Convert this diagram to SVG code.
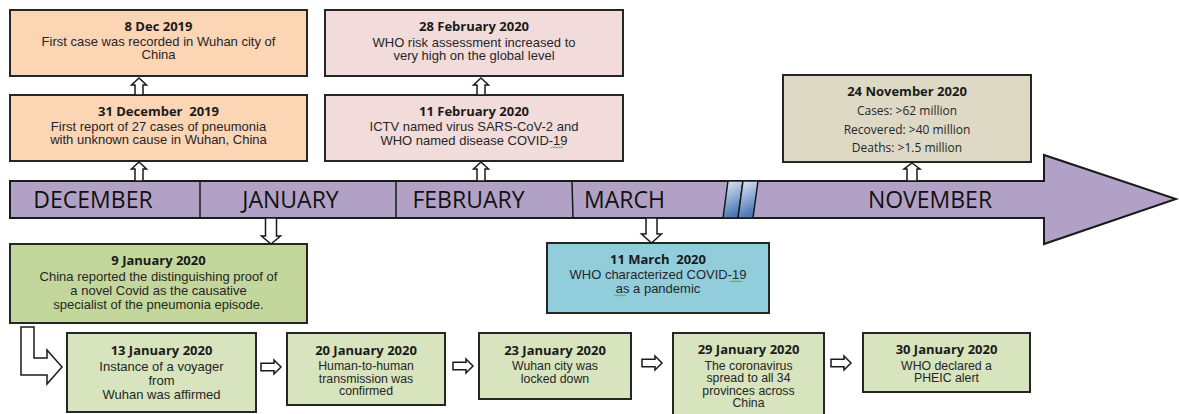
<svg xmlns="http://www.w3.org/2000/svg" width="1179" height="414" viewBox="0 0 1179 414">
<style>
.box{stroke:#262626;stroke-width:2}
.peach{fill:#fcd5b5}.pink{fill:#f2dcdb}.tan{fill:#ddd9c4}.green{fill:#c3d69b}.lgreen{fill:#d7e4bd}.blue{fill:#92cddc}
.t{font-family:"Open Sans","Liberation Sans",sans-serif;font-weight:bold;font-size:13px;fill:#1a1a1a;text-anchor:middle}
.b{font-family:"Liberation Sans",Arial,sans-serif;font-size:13px;fill:#262626;text-anchor:middle}
.s{font-family:"Liberation Sans",Arial,sans-serif;font-size:12.3px;fill:#262626;text-anchor:middle}
.c{font-family:"Open Sans","Liberation Sans",sans-serif;font-size:12px;fill:#262626;text-anchor:middle}
.m{font-family:"Open Sans","Liberation Sans",sans-serif;font-size:23px;fill:#111111;text-anchor:middle}
.arr{fill:#ffffff;stroke:#1a1a1a;stroke-width:1.5;stroke-linejoin:miter}
.sq{fill:none;stroke:#3a9a3a;stroke-width:0.8}
</style>
<defs>
<linearGradient id="brk" x1="0" y1="0" x2="0.3" y2="1">
<stop offset="0" stop-color="#e4ecf7"/>
<stop offset="1" stop-color="#4a78b8"/>
</linearGradient>
</defs>

<g id="timeline">
<polygon points="10,181 1044,181 1044,155 1176,199 1044,244 1044,218 10,218" fill="#b2a1c7" stroke="#1a1a1a" stroke-width="2"/>
<line x1="200" y1="181" x2="200" y2="218" stroke="#1a1a1a" stroke-width="1.5"/>
<line x1="396" y1="181" x2="396" y2="218" stroke="#1a1a1a" stroke-width="1.5"/>
<line x1="572" y1="181" x2="573" y2="218" stroke="#1a1a1a" stroke-width="1.5"/>
<polygon points="728,181 743,181 738,218 723,218" fill="url(#brk)" stroke="#1a1a1a" stroke-width="1.5"/>
<polygon points="743,181 758,181 753,218 738,218" fill="url(#brk)" stroke="#1a1a1a" stroke-width="1.5"/>
<text class="m" x="93" y="208">DECEMBER</text>
<text class="m" x="290.5" y="208">JANUARY</text>
<text class="m" x="468.5" y="208">FEBRUARY</text>
<text class="m" x="624.5" y="208">MARCH</text>
<text class="m" x="930" y="208">NOVEMBER</text>
</g>

<g id="n-8dec">
<rect class="box peach" x="10" y="10" width="297" height="66"/>
<text class="t" x="158.5" y="31">8 Dec 2019</text>
<text class="b" x="158.5" y="46">First case was recorded in Wuhan city of</text>
<text class="b" x="158.5" y="59">China</text>
</g>

<g id="n-31dec">
<rect class="box peach" x="10" y="95" width="297" height="66"/>
<text class="t" x="158.5" y="116" xml:space="preserve">31 December  2019</text>
<text class="b" x="158.5" y="130.5">First report of 27 cases of pneumonia</text>
<text class="b" x="158.5" y="144">with unknown cause in Wuhan, China</text>
</g>

<g id="n-28feb">
<rect class="box pink" x="325" y="10" width="298" height="66"/>
<text class="t" x="474" y="31">28 February 2020</text>
<text class="b" x="474" y="46.5">WHO risk assessment increased to</text>
<text class="b" x="474" y="59.5">very high on the global level</text>
</g>

<g id="n-11feb">
<rect class="box pink" x="325" y="95" width="298" height="66"/>
<text class="t" x="474" y="116">11 February 2020</text>
<text class="b" x="474" y="131">ICTV named virus SARS-CoV-2 and</text>
<text class="b" x="474" y="145">WHO named disease COVID-19</text>
<path class="sq" d="M551,148 l1.5,-1.2 l1.5,1.2 l1.5,-1.2 l1.5,1.2 l1.5,-1.2 l1.5,1.2 l1.5,-1.2 l1.5,1.2"/>
</g>

<g id="n-24nov">
<rect class="box tan" x="783" y="75" width="248" height="87"/>
<text class="t" x="907" y="96">24 November 2020</text>
<text class="c" x="907" y="115">Cases: &gt;62 million</text>
<text class="c" x="907" y="134">Recovered: &gt;40 million</text>
<text class="c" x="907" y="151.5">Deaths: &gt;1.5 million</text>
</g>

<g id="n-9jan">
<rect class="box green" x="10" y="244" width="297" height="79"/>
<text class="t" x="158.5" y="264.5">9 January 2020</text>
<text class="b" x="158.5" y="281">China reported the distinguishing proof of</text>
<text class="b" x="158.5" y="295">a novel Covid as the causative</text>
<text class="b" x="158.5" y="309">specialist of the pneumonia episode.</text>
</g>

<g id="n-11mar">
<rect class="box blue" x="547" y="243" width="222" height="70"/>
<text class="t" x="658" y="264" xml:space="preserve">11 March  2020</text>
<text class="b" x="658" y="279">WHO characterized COVID-19</text>
<text class="b" x="658" y="293">as a pandemic</text>
<path class="sq" d="M730,282 l1.5,-1.2 l1.5,1.2 l1.5,-1.2 l1.5,1.2 l1.5,-1.2 l1.5,1.2 l1.5,-1.2 l1.5,1.2"/>
<path class="sq" d="M614,296 l1.5,-1.2 l1.5,1.2 l1.5,-1.2 l1.5,1.2 l1.5,-1.2 l1.5,1.2 l1.5,-1.2 l1.5,1.2"/>
</g>

<g id="n-13jan">
<rect class="box lgreen" x="67" y="333" width="189" height="79"/>
<text class="t" x="161.5" y="354.5">13 January 2020</text>
<text class="b" x="161.5" y="370.5">Instance of a voyager</text>
<text class="b" x="161.5" y="385">from</text>
<text class="b" x="161.5" y="399">Wuhan was affirmed</text>
</g>

<g id="n-20jan">
<rect class="box lgreen" x="287" y="333" width="158" height="72"/>
<text class="t" x="366" y="354.5">20 January 2020</text>
<text class="s" x="366" y="370">Human-to-human</text>
<text class="s" x="366" y="382.5">transmission was</text>
<text class="s" x="366" y="395">confirmed</text>
</g>

<g id="n-23jan">
<rect class="box lgreen" x="479" y="333" width="152" height="66"/>
<text class="t" x="555" y="354.5">23 January 2020</text>
<text class="s" x="555" y="370">Wuhan city was</text>
<text class="s" x="555" y="383">locked down</text>
</g>

<g id="n-29jan">
<rect class="box lgreen" x="673" y="333" width="151" height="85"/>
<text class="t" x="748.5" y="354">29 January 2020</text>
<text class="s" x="748.5" y="369.5">The coronavirus</text>
<text class="s" x="748.5" y="382">spread to all 34</text>
<text class="s" x="748.5" y="394.5">provinces across</text>
<text class="s" x="748.5" y="407">China</text>
</g>

<g id="n-30jan">
<rect class="box lgreen" x="863" y="333" width="167" height="59"/>
<text class="t" x="946.5" y="354">30 January 2020</text>
<text class="s" x="946.5" y="369.5">WHO declared a</text>
<text class="s" x="946.5" y="382">PHEIC alert</text>
</g>

<g id="connectors">
<path class="arr" d="M139,78 L146.5,85 L143,85 L143,95 L135,95 L135,85 L131.5,85 Z"/>
<path class="arr" d="M139,162 L146.5,169 L143,169 L143,181 L135,181 L135,169 L131.5,169 Z"/>
<path class="arr" d="M481,78 L488.5,85 L485,85 L485,95 L477,95 L477,85 L473.5,85 Z"/>
<path class="arr" d="M481,162 L488.5,169 L485,169 L485,181 L477,181 L477,169 L473.5,169 Z"/>
<path class="arr" d="M912,163 L920,169 L917,169 L917,181 L907,181 L907,169 L904,169 Z"/>
<path class="arr" d="M271,244 L280.5,236 L276.5,236 L276.5,218 L265.5,218 L265.5,236 L261.5,236 Z"/>
<path class="arr" d="M651.5,243 L661.5,234 L657,234 L657,218 L646,218 L646,234 L641.5,234 Z"/>
<path class="arr" d="M21,327 L34,327 L34,358 L47,358 L47,350 L62,367 L47,384 L47,375 L21,375 Z"/>
<path class="arr" d="M261,363.3 L274,363.3 L274,360 L281,367 L274,374 L274,370.7 L261,370.7 Z"/>
<path class="arr" d="M453,362.3 L466,362.3 L466,359 L473,366 L466,373 L466,369.7 L453,369.7 Z"/>
<path class="arr" d="M642,359.3 L655,359.3 L655,356 L662,363 L655,370 L655,366.7 L642,366.7 Z"/>
<path class="arr" d="M831,359.3 L844,359.3 L844,356 L851,363 L844,370 L844,366.7 L831,366.7 Z"/>
</g>
</svg>
